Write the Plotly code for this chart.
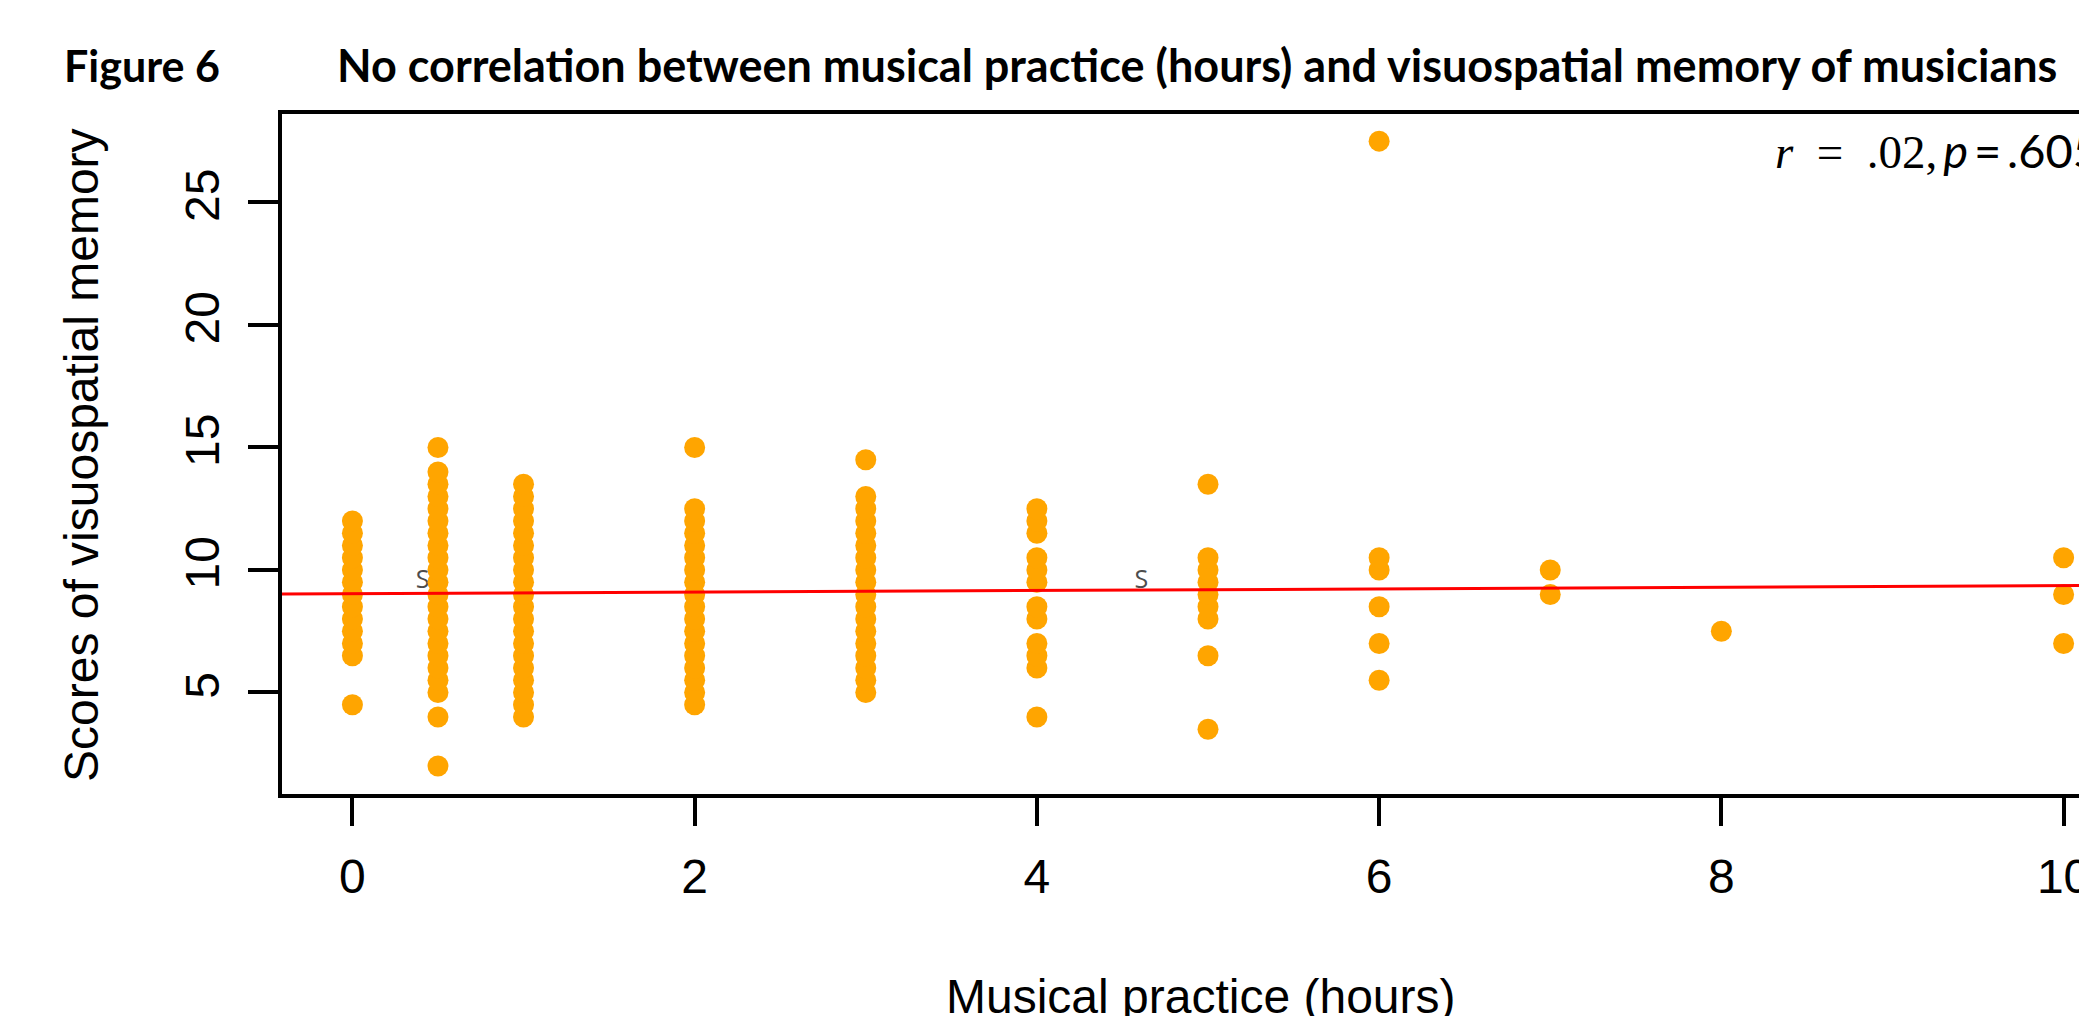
import plotly.graph_objects as go

# ---------------- data ----------------
practice_levels = [0, 0.5, 1, 2, 3, 4, 5, 6, 7, 8, 10]

scores_0h = [4.5, 6.5, 7, 7.5, 8, 8.5, 9, 9.5, 10, 10.5, 11, 11.5, 12]
scores_05h = [2, 4, 5, 5.5, 6, 6.5, 7, 7.5, 8, 8.5, 9, 9.5, 10, 10.5, 11,
              11.5, 12, 12.5, 13, 13.5, 14, 15]
scores_1h = [4, 4.5, 5, 5.5, 6, 6.5, 7, 7.5, 8, 8.5, 9, 9.5, 10, 10.5, 11,
             11.5, 12, 12.5, 13, 13.5]
scores_2h = [4.5, 5, 5.5, 6, 6.5, 7, 7.5, 8, 8.5, 9, 9.5, 10, 10.5, 11, 11.5,
             12, 12.5, 15]
scores_3h = [5, 5.5, 6, 6.5, 7, 7.5, 8, 8.5, 9, 9.5, 10, 10.5, 11, 11.5, 12,
             12.5, 13, 14.5]
scores_4h = [4, 6, 6.5, 7, 8, 8.5, 9.5, 10, 10.5, 11.5, 12, 12.5]
scores_5h = [3.5, 6.5, 8, 8.5, 9, 9.5, 10, 10.5, 13.5]
scores_6h = [5.5, 7, 8.5, 10, 10.5, 27.5]
scores_7h = [9, 10]
scores_8h = [7.5]
scores_10h = [7, 9, 10.5]

score_groups = [scores_0h, scores_05h, scores_1h, scores_2h, scores_3h,
                scores_4h, scores_5h, scores_6h, scores_7h, scores_8h,
                scores_10h]

# fitted regression line (intercept, slope)
fit_intercept = 9.03
fit_slope = 0.033

# stray labels in the figure
stray_label_x = [0.41, 4.61]
stray_label_y = [9.5, 9.5]
stray_label_text = ["S", "S"]

x_ticks = [0, 2, 4, 6, 8, 10]
y_ticks = [5, 10, 15, 20, 25]

figure_label = "Figure 6"
title_text = ("No correlation between musical practice (hours) and "
              "visuospatial memory of musicians")
stats_text = ('<span style="font-family:\'Liberation Serif\'"><i>r</i>&nbsp;&nbsp;=&nbsp;&nbsp;.02,</span>'
              '&#8201;<i>p</i>&#8201;=&#8201;.605')
x_title = "Musical practice (hours)"
y_title = "Scores of visuospatial memory"

# ---------------- figure ----------------
W, H = 2079, 1016
x_range = [-0.4115, 10.09]
y_range = [0.857, 28.61]

xs, ys = [], []
for lvl, grp in zip(practice_levels, score_groups):
    for s in grp:
        xs.append(lvl)
        ys.append(s)

fig = go.Figure()

fig.add_trace(go.Scatter(
    x=stray_label_x, y=stray_label_y, text=stray_label_text, mode="text",
    textfont=dict(family="Open Sans", size=25, color="#4d4d4d"),
    hoverinfo="skip"))

fig.add_trace(go.Scatter(
    x=xs, y=ys, mode="markers",
    marker=dict(size=21, color="#FFA500", line=dict(width=0)),
    hoverinfo="skip"))

fig.add_trace(go.Scatter(
    x=x_range, y=[fit_intercept + fit_slope * v for v in x_range],
    mode="lines", line=dict(color="#FF0000", width=3),
    hoverinfo="skip"))

axis_font = dict(family="Liberation Sans", size=48, color="black")

fig.update_layout(
    width=W, height=H,
    margin=dict(l=0, r=0, t=0, b=0, autoexpand=False),
    paper_bgcolor="white", plot_bgcolor="white",
    showlegend=False,
    xaxis=dict(domain=[282 / W, 1], range=x_range, tickvals=x_ticks,
               ticks="outside", ticklen=28, tickwidth=3.5, tickcolor="black",
               showline=True, linewidth=3.5, linecolor="black", mirror=True,
               showgrid=False, zeroline=False, tickfont=axis_font,
               ticklabelstandoff=10, ticklabeloverflow="allow",
               automargin=False),
    yaxis=dict(domain=[222 / H, 902 / H], range=y_range, tickvals=y_ticks,
               ticks="outside", ticklen=30, tickwidth=3.5, tickcolor="black",
               showline=True, linewidth=3.5, linecolor="black", mirror=False,
               showgrid=False, zeroline=False, tickfont=axis_font,
               tickangle=-90, ticklabelstandoff=10, automargin=False),
    annotations=[
        dict(text=figure_label, xref="paper", yref="paper",
             x=62 / W, y=1 - 65 / H, xanchor="left", yanchor="middle",
             showarrow=False,
             font=dict(family="Lato", size=43, color="black", weight="bold")),
        dict(text=title_text, xref="paper", yref="paper",
             x=335 / W, y=1 - 65 / H, xanchor="left", yanchor="middle",
             showarrow=False,
             font=dict(family="Lato", size=45, color="black", weight="bold")),
        dict(text=stats_text, xref="paper", yref="paper",
             x=1773 / W, y=1 - 150 / H, xanchor="left", yanchor="middle",
             showarrow=False,
             font=dict(family="Lato", size=47, color="black")),
        dict(text=x_title, xref="paper", yref="paper",
             x=1200 / W, y=1 - 996 / H, xanchor="center", yanchor="middle",
             showarrow=False, font=axis_font),
        dict(text=y_title, xref="paper", yref="paper", textangle=-90,
             x=81 / W, y=1 - 455 / H, xanchor="center", yanchor="middle",
             showarrow=False, font=axis_font),
    ],
)

fig.write_html("out.html")
